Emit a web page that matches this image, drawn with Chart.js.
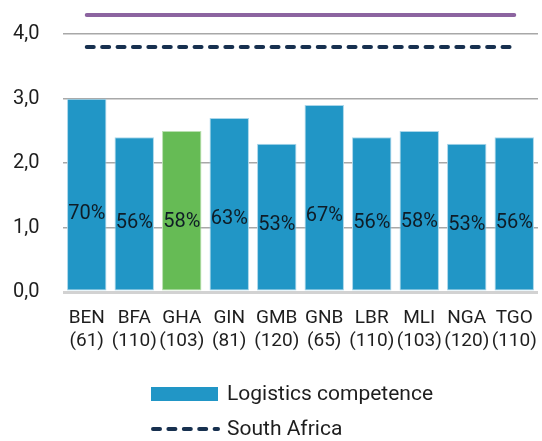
<!DOCTYPE html>
<html>
<head>
<meta charset="utf-8">
<script src="https://cdn.jsdelivr.net/npm/chart.js@4.4.1/dist/chart.umd.min.js"></script>
<style>
  html, body { margin: 0; padding: 0; background: #ffffff; }
  #wrap { width: 542px; height: 441px; position: relative; }
</style>
</head>
<body>
<div id="wrap"><canvas id="c"></canvas></div>
<script>
// Logistics competence score per country (scale 0–5), with the LPI rank in brackets
const countries   = ['BEN', 'BFA', 'GHA', 'GIN', 'GMB', 'GNB', 'LBR', 'MLI', 'NGA', 'TGO'];
const ranks       = [61, 110, 103, 81, 120, 65, 110, 103, 120, 110];
const competence  = [3.0, 2.4, 2.5, 2.7, 2.3, 2.9, 2.4, 2.5, 2.3, 2.4];
// score as a share of the top performer's score, in percent
const shareOfTop  = [70, 56, 58, 63, 53, 67, 56, 58, 53, 56];
const southAfrica = 3.8;
const topPerformer = 4.3;
const yTicks      = [0, 1, 2, 3, 4];
const highlighted = 'GHA';

const BLUE = '#2196c6';
const GREEN = '#66bb55';
const NAVY = '#17304f';
const PURPLE = '#8c64a0';
const TEXT = '#1e1e1e';

Chart.defaults.font.family = 'Roboto, "Open Sans", sans-serif';
Chart.defaults.color = TEXT;

// share labels written at the points of the hidden share series
const shareLabels = {
  id: 'shareLabels',
  afterDatasetsDraw(chart) {
    const idx = chart.data.datasets.findIndex(d => d.id === 'share');
    const meta = chart.getDatasetMeta(idx);
    const ctx = chart.ctx;
    const size = 20;
    ctx.save();
    ctx.font = size + 'px ' + Chart.defaults.font.family;
    ctx.fillStyle = '#0f1c26';
    ctx.textAlign = 'center';
    ctx.textBaseline = 'alphabetic';
    meta.data.forEach((pt, i) => {
      ctx.fillText(chart.data.datasets[idx].data[i] + '%', pt.x, pt.y + size * 0.355);
    });
    ctx.restore();
  }
};

// two-row legend under the axis
const rowLegend = {
  id: 'rowLegend',
  afterDraw(chart, args, opts) {
    const ctx = chart.ctx;
    const x0 = opts.left;
    const sw = 67;
    ctx.save();
    ctx.font = '21px ' + Chart.defaults.font.family;
    ctx.textBaseline = 'middle';
    opts.items.forEach((it, r) => {
      const ds = chart.data.datasets[it];
      const cy = opts.top + r * opts.rowGap;
      if (ds.type === 'bar') {
        ctx.fillStyle = Array.isArray(ds.backgroundColor) ? ds.backgroundColor[0] : ds.backgroundColor;
        ctx.fillRect(x0, cy - 7, sw, 14);
      } else {
        ctx.strokeStyle = ds.borderColor;
        ctx.lineWidth = ds.borderWidth;
        ctx.lineCap = ds.borderCapStyle || 'butt';
        ctx.setLineDash(ds.borderDash || []);
        ctx.beginPath();
        ctx.moveTo(x0 + 2, cy);
        ctx.lineTo(x0 + sw, cy);
        ctx.stroke();
        ctx.setLineDash([]);
      }
      ctx.fillStyle = TEXT;
      ctx.fillText(ds.label, x0 + sw + 9, cy + 1);
    });
    ctx.restore();
  }
};

new Chart(document.getElementById('c'), {
  data: {
    labels: countries.map((c, i) => [c, '(' + ranks[i] + ')']),
    datasets: [
      {
        type: 'bar',
        label: 'Logistics competence',
        data: competence,
        backgroundColor: countries.map(c => c === highlighted ? GREEN : BLUE),
        borderColor: countries.map(c => c === highlighted ? '#b9e0b0' : '#a9d6ea'),
        borderWidth: 1,
        borderSkipped: false,
        categoryPercentage: 1.0,
        barPercentage: 0.83,
        order: 3
      },
      {
        type: 'line',
        label: 'South Africa',
        data: countries.map(() => southAfrica),
        borderColor: NAVY,
        borderWidth: 4,
        borderDash: [7, 8.4],
        borderCapStyle: 'round',
        pointRadius: 0,
        order: 1
      },
      {
        type: 'line',
        label: 'Top performer',
        data: countries.map(() => topPerformer),
        borderColor: PURPLE,
        borderWidth: 4,
        borderCapStyle: 'round',
        pointRadius: 0,
        order: 1
      },
      {
        id: 'share',
        type: 'line',
        label: 'Share of top',
        data: shareOfTop,
        yAxisID: 'y2',
        showLine: false,
        pointRadius: 0,
        pointHoverRadius: 0,
        order: 0
      }
    ]
  },
  options: {
    responsive: true,
    maintainAspectRatio: false,
    animation: false,
    events: [],
    layout: { padding: { top: 2, left: 13, right: 4, bottom: 81 } },
    plugins: {
      legend: { display: false },
      tooltip: { enabled: false },
      rowLegend: { left: 151, top: 394, rowGap: 35, items: [0, 1] }
    },
    scales: {
      x: {
        grid: { display: false },
        border: { display: false },
        afterFit: s => { s.paddingLeft = 0; s.paddingRight = 0; },
        ticks: {
          padding: 7,
          font: { size: 19, lineHeight: 1.21 },
          color: TEXT,
          maxRotation: 0,
          autoSkip: false
        }
      },
      y: {
        min: 0,
        max: 4.5,
        afterBuildTicks: s => { s.ticks = yTicks.map(v => ({ value: v })); },
        afterFit: s => { s.width = 50; s.paddingTop = 0; s.paddingBottom = 0; },
        border: { display: false },
        grid: {
          drawTicks: false,
          color: c => c.tick && c.tick.value === 0 ? '#d2d2d2' : '#a8a8a8',
          lineWidth: c => c.tick && c.tick.value === 0 ? 3 : 1.5
        },
        ticks: {
          padding: 0,
          crossAlign: 'far',
          font: { size: 20 },
          color: TEXT,
          callback: v => v.toFixed(1).replace('.', ',')
        }
      },
      y2: {
        display: false,
        min: -52,
        max: 391
      }
    }
  },
  plugins: [shareLabels, rowLegend]
});
</script>
</body>
</html>
